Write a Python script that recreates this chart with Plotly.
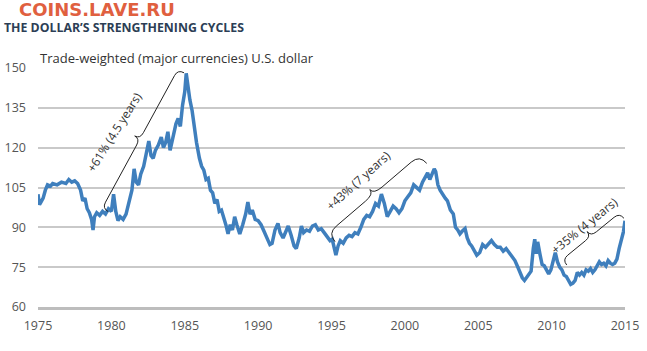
import plotly.graph_objects as go
import numpy as np

# ---------------- data ----------------
years = [
    1975.00, 1975.10, 1975.20, 1975.35, 1975.50, 1975.65, 1975.85, 1976.00, 1976.30, 1976.60,
    1976.90, 1977.10, 1977.30, 1977.50, 1977.70, 1977.90, 1978.05, 1978.20, 1978.35, 1978.50,
    1978.65, 1978.75, 1978.85, 1979.00, 1979.20, 1979.40, 1979.60, 1979.80, 1980.00, 1980.15,
    1980.30, 1980.45, 1980.60, 1980.80, 1981.00, 1981.20, 1981.40, 1981.55, 1981.70, 1981.85,
    1982.00, 1982.20, 1982.40, 1982.55, 1982.70, 1982.85, 1983.00, 1983.20, 1983.40, 1983.55,
    1983.70, 1983.85, 1984.00, 1984.20, 1984.40, 1984.55, 1984.70, 1984.85, 1985.00, 1985.10,
    1985.20, 1985.35, 1985.50, 1985.65, 1985.80, 1986.00, 1986.15, 1986.30, 1986.45, 1986.60,
    1986.75, 1986.90, 1987.05, 1987.20, 1987.35, 1987.50, 1987.65, 1987.80, 1987.95, 1988.10,
    1988.25, 1988.40, 1988.55, 1988.75, 1988.95, 1989.15, 1989.30, 1989.45, 1989.60, 1989.80,
    1990.00, 1990.20, 1990.40, 1990.60, 1990.80, 1990.95, 1991.15, 1991.35, 1991.50, 1991.70,
    1991.90, 1992.05, 1992.25, 1992.45, 1992.60, 1992.80, 1992.95, 1993.10, 1993.30, 1993.50,
    1993.70, 1993.90, 1994.10, 1994.30, 1994.50, 1994.70, 1994.90, 1995.05, 1995.20, 1995.30,
    1995.45, 1995.60, 1995.80, 1996.00, 1996.20, 1996.40, 1996.60, 1996.80, 1997.00, 1997.20,
    1997.40, 1997.60, 1997.80, 1998.00, 1998.20, 1998.40, 1998.60, 1998.80, 1999.00, 1999.20,
    1999.40, 1999.60, 1999.80, 2000.00, 2000.20, 2000.40, 2000.60, 2000.80, 2001.00, 2001.20,
    2001.40, 2001.55, 2001.70, 2001.85, 2002.00, 2002.10, 2002.25, 2002.40, 2002.55, 2002.75,
    2002.90, 2003.10, 2003.30, 2003.45, 2003.60, 2003.75, 2003.90, 2004.10, 2004.25, 2004.40,
    2004.55, 2004.75, 2004.90, 2005.10, 2005.30, 2005.50, 2005.70, 2005.90, 2006.10, 2006.30,
    2006.50, 2006.70, 2006.90, 2007.10, 2007.30, 2007.50, 2007.70, 2007.85, 2008.00, 2008.15,
    2008.30, 2008.45, 2008.60, 2008.75, 2008.85, 2008.95, 2009.05, 2009.20, 2009.35, 2009.50,
    2009.65, 2009.80, 2009.95, 2010.10, 2010.25, 2010.40, 2010.55, 2010.70, 2010.85, 2011.00,
    2011.15, 2011.30, 2011.45, 2011.60, 2011.75, 2011.90, 2012.05, 2012.20, 2012.35, 2012.50,
    2012.65, 2012.80, 2012.95, 2013.10, 2013.25, 2013.40, 2013.55, 2013.70, 2013.85, 2014.00,
    2014.15, 2014.30, 2014.45, 2014.60, 2014.75, 2014.90, 2015.00,
]
dollar_index = [
    102.5, 98.5, 99.5, 101.0, 104.0, 106.0, 105.5, 106.5, 106.0, 107.0,
    106.5, 108.0, 107.0, 107.5, 106.5, 104.0, 100.0, 101.0, 97.0, 95.5,
    93.0, 89.0, 94.0, 95.5, 94.5, 96.0, 95.0, 97.0, 96.0, 102.5,
    96.0, 92.5, 94.0, 93.0, 95.0, 99.0, 104.0, 112.0, 107.0, 106.0,
    110.0, 113.0, 118.0, 122.5, 117.0, 116.0, 119.0, 121.0, 124.0, 120.0,
    122.0, 126.0, 119.0, 124.0, 129.0, 131.0, 128.0, 136.0, 141.0, 148.0,
    143.0, 138.0, 134.0, 127.0, 122.0, 116.0, 113.0, 111.5, 108.0, 108.5,
    104.0, 103.0, 99.0, 100.5, 96.0, 96.5, 94.0, 91.0, 87.5, 91.0,
    89.0, 94.0, 91.0, 87.5, 91.0, 95.0, 99.5, 95.0, 96.5, 93.0,
    92.5, 91.0, 88.5, 86.0, 83.5, 84.0, 89.0, 91.5, 88.0, 86.0,
    89.0, 90.5, 87.0, 83.0, 82.0, 86.0, 90.5, 88.0, 89.0, 88.5,
    90.5, 91.0, 89.0, 89.5, 88.0, 86.5, 85.0, 85.5, 81.5, 79.5,
    83.0, 85.0, 84.0, 86.0, 87.0, 86.5, 88.0, 87.5, 90.0, 93.0,
    94.5, 94.0, 96.0, 99.0, 98.0, 102.5, 99.0, 94.0, 96.0, 98.0,
    97.0, 95.5, 97.0, 100.0, 101.5, 103.0, 106.0, 105.0, 104.0, 107.0,
    109.0, 110.5, 108.0, 110.0, 112.0, 111.0, 106.0, 104.0, 102.5, 101.0,
    100.0, 96.5, 95.0, 90.0, 89.0, 87.5, 88.5, 89.5, 86.0, 84.0,
    83.0, 81.0, 79.5, 80.5, 83.5, 82.5, 84.0, 85.0, 83.5, 82.5,
    82.5, 81.0, 82.0, 80.5, 79.0, 77.5, 75.0, 72.5, 71.0, 70.0,
    71.0, 72.5, 73.5, 82.0, 85.5, 80.0, 84.5, 80.0, 76.0, 75.5,
    74.0, 72.5, 74.0, 77.0, 80.5, 77.0, 75.0, 74.0, 72.0, 71.5,
    70.0, 68.5, 69.0, 70.0, 73.0, 72.0, 73.0, 72.0, 74.0, 73.5,
    74.5, 73.0, 74.0, 75.5, 77.0, 76.0, 76.5, 75.5, 77.5, 76.5,
    76.0, 76.5, 78.0, 82.0, 85.0, 88.5, 92.5,
]

x_ticks = [1975, 1980, 1985, 1990, 1995, 2000, 2005, 2010, 2015]
y_ticks = [60, 75, 90, 105, 120, 135, 150]

# cycles: (start year, start value, end year, end value, label)
cycle_start_year = [1979.79, 1995.24, 2011.03]
cycle_start_val = [95.9, 84.6, 75.8]
cycle_end_year = [1984.95, 2001.49, 2014.93]
cycle_end_val = [148.2, 114.1, 93.4]
cycle_labels = ["+61% (4.5 years)", "+43% (7 years)", "+35% (4 years)"]
label_year = [1980.18, 1996.83, 2012.25]
label_val = [125.7, 107.5, 90.6]

# ---------------- layout geometry ----------------
W, H = 647, 351
ML, MR, MT, MB = 38, 22, 68, 44
PW, PH = W - ML - MR, H - MT - MB
X0, X1 = 1975, 2015
Y0, Y1 = 60, 150

FONT = "Open Sans, sans-serif"
LINE_COLOR = "#3f7fbd"


def to_px(yr, v):
    return np.array([ML + (yr - X0) / (X1 - X0) * PW, MT + (Y1 - v) / (Y1 - Y0) * PH])


def to_data(p):
    return (X0 + (p[0] - ML) / PW * (X1 - X0), Y1 - (p[1] - MT) / PH * (Y1 - Y0))


def brace_path(y0, v0, y1, v1, w, cusp):
    p0, p1 = to_px(y0, v0), to_px(y1, v1)
    d = p1 - p0
    u = d / np.hypot(*d)
    n = np.array([u[1], -u[0]])  # normal toward upper-left
    mid = (p0 + p1) / 2
    pts = [
        p0, p0 + n * w, p0 + n * w + u * w,
        mid + n * w - u * w, mid + n * w, mid + n * (w + cusp),
        mid + n * w, mid + n * w + u * w,
        p1 + n * w - u * w, p1 + n * w, p1,
    ]
    c = [to_data(p) for p in pts]
    f = lambda q: f"{q[0]:.4f},{q[1]:.4f}"
    return (f"M {f(c[0])} Q {f(c[1])} {f(c[2])} L {f(c[3])} Q {f(c[4])} {f(c[5])} "
            f"Q {f(c[6])} {f(c[7])} L {f(c[8])} Q {f(c[9])} {f(c[10])}")


def py_paper(py):
    return 1 + (MT - py) / PH


def px_paper(px):
    return (px - ML) / PW


fig = go.Figure()
fig.add_trace(go.Scatter(x=years, y=dollar_index, mode="lines",
                         line=dict(color=LINE_COLOR, width=3.5), hoverinfo="skip"))

depths = [7, 11, 7]
angles = [-58, -42, -39]
shapes = []
annotations = []
for i in range(3):
    shapes.append(dict(type="path", xref="x", yref="y",
                       path=brace_path(cycle_start_year[i], cycle_start_val[i],
                                       cycle_end_year[i], cycle_end_val[i], depths[i], 6),
                       line=dict(color="#222222", width=1)))
    annotations.append(dict(x=label_year[i], y=label_val[i], xref="x", yref="y",
                            text=cycle_labels[i], showarrow=False, textangle=angles[i],
                            font=dict(family=FONT, size=12, color="#333333")))

# headings
annotations.append(dict(x=px_paper(17), y=py_paper(10),
                        xref="paper", yref="paper", xanchor="left", yanchor="middle",
                        text="<b>COINS.LAVE.RU</b>", showarrow=False,
                        font=dict(family="DejaVu Sans, sans-serif", size=18, color="#e0603f")))
annotations.append(dict(x=px_paper(2), y=py_paper(27),
                        xref="paper", yref="paper", xanchor="left", yanchor="middle",
                        text="<b>THE DOLLAR’S STRENGTHENING CYCLES</b>", showarrow=False,
                        font=dict(family=FONT, size=12.3, color="#2c3e55")))
annotations.append(dict(x=px_paper(38), y=py_paper(58),
                        xref="paper", yref="paper", xanchor="left", yanchor="middle",
                        text="Trade-weighted (major currencies) U.S. dollar", showarrow=False,
                        font=dict(family=FONT, size=13, color="#333333")))

fig.update_layout(
    width=W, height=H,
    margin=dict(l=ML, r=MR, t=MT, b=MB, pad=0, autoexpand=False),
    paper_bgcolor="white", plot_bgcolor="white",
    showlegend=False,
    shapes=shapes,
    annotations=annotations,
    xaxis=dict(range=[X0, X1], tickvals=x_ticks, ticktext=[str(t) for t in x_ticks],
               showgrid=False, zeroline=False, showline=True, linecolor="#bdbdbd", linewidth=3,
               ticks="", ticklabelstandoff=5, automargin=False,
               tickfont=dict(family=FONT, size=12.5, color="#555555")),
    yaxis=dict(range=[Y0, Y1], tickvals=y_ticks, ticktext=[str(t) for t in y_ticks],
               showgrid=True, gridcolor="#c9c9c9", gridwidth=1.5, zeroline=False,
               showline=False, ticks="", ticklabelstandoff=11, automargin=False,
               tickfont=dict(family=FONT, size=12.5, color="#555555")),
)

fig.write_html("out.html")
